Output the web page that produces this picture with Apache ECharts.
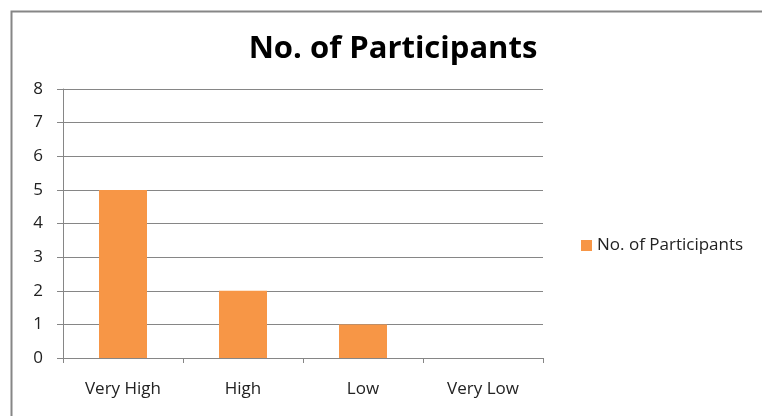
<!DOCTYPE html>
<html><head><meta charset="utf-8">
<script src="https://cdn.jsdelivr.net/npm/echarts@6/dist/echarts.min.js"></script>
<style>html,body{margin:0;padding:0;background:#fff}#c{width:762px;height:416px}</style>
</head><body><div id="c"></div>
<script>
const categories = ["Very High", "High", "Low", "Very Low"];
const participants = [5, 2, 1, 0];
const seriesName = "No. of Participants";
const titleText = "No. of Participants";
const yMin = 0, yMax = 8, yStep = 1;

const chart = echarts.init(document.getElementById('c'), null, {renderer: 'canvas'});
const F = '"Open Sans", Lato, sans-serif';
chart.setOption({
  animation: false,
  backgroundColor: '#fff',
  graphic: [{
    type: 'rect', left: 9, top: 9,
    shape: {width: 800, height: 500},
    style: {fill: 'none', stroke: '#868686', lineWidth: 2}
  }],
  title: {
    text: titleText, left: 388, top: 29, textAlign: 'center',
    textStyle: {fontFamily: F, fontWeight: 'bold', fontSize: 31, color: '#000'}
  },
  legend: {
    data: [seriesName], left: 576, top: 232, orient: 'vertical',
    icon: 'rect', itemWidth: 11, itemHeight: 11, itemGap: 6,
    textStyle: {fontFamily: F, fontSize: 17, color: '#222'}
  },
  grid: {left: 63, right: 219, top: 89, bottom: 58, containLabel: false},
  xAxis: {
    type: 'category', data: categories,
    axisLine: {lineStyle: {color: '#868686', width: 1}},
    axisTick: {show: true, length: 5, alignWithLabel: false, lineStyle: {color: '#868686'}},
    axisLabel: {fontFamily: F, fontSize: 17, color: '#222', margin: 23}
  },
  yAxis: {
    type: 'value', min: yMin, max: yMax, interval: yStep,
    axisLine: {show: true, lineStyle: {color: '#868686', width: 1}},
    axisTick: {show: true, length: 6, lineStyle: {color: '#868686'}},
    splitLine: {lineStyle: {color: '#868686', width: 1}},
    axisLabel: {fontFamily: F, fontSize: 17, color: '#222', margin: 20}
  },
  series: [{
    name: seriesName, type: 'bar', data: participants,
    barWidth: '40%', itemStyle: {color: '#F79646'}
  }]
});
</script></body></html>
